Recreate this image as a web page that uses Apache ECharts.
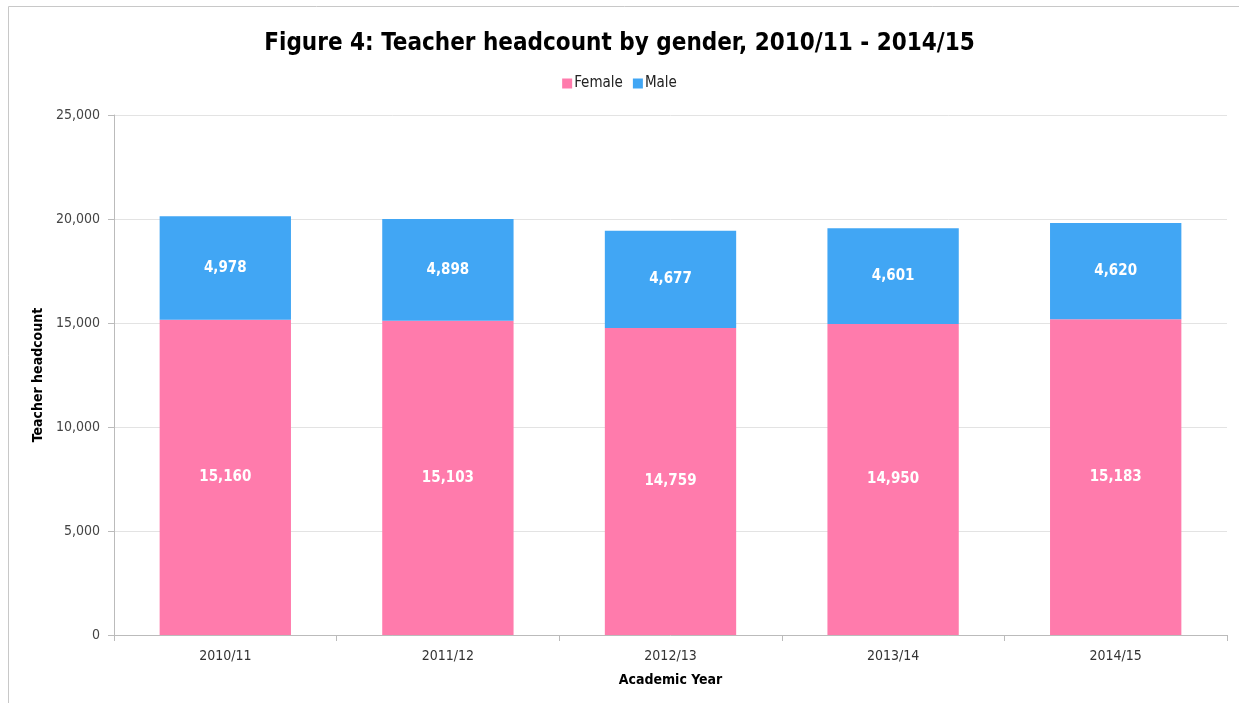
<!DOCTYPE html>
<html><head><meta charset="utf-8">
<script src="https://cdn.jsdelivr.net/npm/echarts@6/dist/echarts.min.js"></script>
<style>html,body{margin:0;padding:0;background:#fff}#c{width:1239px;height:703px}</style>
</head><body><div id="c"></div>
<script>
const categories = ['2010/11','2011/12','2012/13','2013/14','2014/15'];
const female = [15160, 15103, 14759, 14950, 15183];
const male = [4978, 4898, 4677, 4601, 4620];
const yTicks = [0, 5000, 10000, 15000, 20000, 25000];

const FONT = '"Liberation Sans Narrow", "DejaVu Sans Condensed", sans-serif';
const fmt = v => v.toLocaleString('en-US');
const chart = echarts.init(document.getElementById('c'));
const labelStyle = {show:true, position:'inside', color:'#fff', fontWeight:'bold', fontSize:15, fontFamily:FONT, formatter:p=>fmt(p.value)};
chart.setOption({
  animation:false,
  backgroundColor:'#fff',
  title:{text:'Figure 4: Teacher headcount by gender, 2010/11 - 2014/15', left:'center', top:27,
    textStyle:{fontSize:24, fontWeight:'bold', fontFamily:FONT, color:'#000'}},
  legend:{data:['Female','Male'], top:71, left:'center', itemWidth:10, itemHeight:10, itemGap:10, icon:'rect',
    textStyle:{fontSize:15, fontFamily:FONT, color:'#222', padding:[0,0,0,-3]}},
  grid:{left:114, right:12, top:115, bottom:68},
  xAxis:{type:'category', data:categories,
    name:'Academic Year', nameLocation:'middle', nameGap:38,
    nameTextStyle:{fontSize:14, fontWeight:'bold', fontFamily:FONT, color:'#000'},
    axisLine:{lineStyle:{color:'#bbb'}}, axisTick:{show:true, length:6, lineStyle:{color:'#bbb'}},
    axisLabel:{fontSize:14, fontFamily:FONT, color:'#333', margin:14}},
  yAxis:{type:'value', min:0, max:25000, interval:5000,
    name:'Teacher headcount', nameLocation:'middle', nameGap:67, nameRotate:90,
    nameTextStyle:{fontSize:14, fontWeight:'bold', fontFamily:FONT, color:'#000'},
    axisLine:{show:true, lineStyle:{color:'#bbb'}}, axisTick:{show:true, length:6, lineStyle:{color:'#bbb'}},
    axisLabel:{fontSize:14, fontFamily:FONT, color:'#444', margin:14, formatter:v=>fmt(v)},
    splitLine:{lineStyle:{color:'#e3e3e3'}}},
  series:[
    {name:'Female', type:'bar', stack:'t', data:female, barCategoryGap:'41%', itemStyle:{color:'#FF7BAC'}, label:labelStyle},
    {name:'Male', type:'bar', stack:'t', data:male, itemStyle:{color:'#41A6F4'}, label:labelStyle}
  ],
  graphic:[{type:'rect', shape:{x:8.5, y:6.5, width:1239, height:720}, style:{fill:'none', stroke:'#c8c8c8', lineWidth:1}, silent:true}]
});
</script></body></html>
